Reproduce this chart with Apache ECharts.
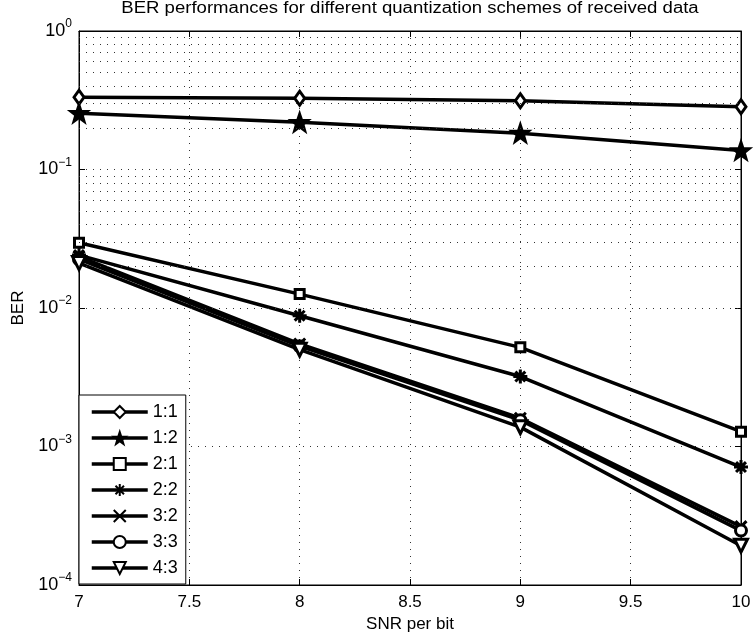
<!DOCTYPE html>
<html>
<head>
<meta charset="utf-8">
<script src="https://cdn.jsdelivr.net/npm/echarts@6/dist/echarts.min.js"></script>
<style>
html,body{margin:0;padding:0;background:#fff;}
#c{width:754px;height:639px;}
</style>
</head>
<body>
<div id="c"></div>
<script>
const snr = [7, 8, 9, 10];
const seriesNames = ['1:1', '1:2', '2:1', '2:2', '3:2', '3:3', '4:3'];
const ber11 = [0.332, 0.327, 0.314, 0.284];
const ber12 = [0.255, 0.219, 0.183, 0.137];
const ber21 = [0.0296, 0.0126, 0.0052, 0.00128];
const ber22 = [0.0241, 0.0088, 0.0032, 0.00071];
const ber32 = [0.0235, 0.0055, 0.0016, 0.000264];
const ber33 = [0.0225, 0.0053, 0.00155, 0.000247];
const ber43 = [0.0211, 0.0050, 0.00138, 0.000192];
const xTicks = [7, 7.5, 8, 8.5, 9, 9.5, 10];
const yDecades = [1e-4, 1e-3, 1e-2, 1e-1, 1];
const titleText = 'BER performances for different quantization schemes of received data';
const xName = 'SNR per bit';
const yName = 'BER';

const FONT = '"Liberation Sans", Arial, sans-serif';
const allData = [ber11, ber12, ber21, ber22, ber32, ber33, ber43];

const symDefs = [
  {symbol: 'diamond', size: [10, 14], fill: '#fff'},
  {symbol: 'path://M0,-10L2.35,-3.24L9.51,-3.09L3.8,1.24L5.88,8.09L0,4L-5.88,8.09L-3.8,1.24L-9.51,-3.09L-2.35,-3.24Z', size: 16, fill: '#000'},
  {symbol: 'rect', size: 9, fill: '#fff'},
  {symbol: 'path://M0,-10L0,10M-10,0L10,0M-7.07,-7.07L7.07,7.07M-7.07,7.07L7.07,-7.07', size: 14, fill: 'none'},
  {symbol: 'path://M-10,-10L10,10M-10,10L10,-10', size: 11, fill: 'none'},
  {symbol: 'circle', size: 11, fill: '#fff'},
  {symbol: 'path://M-10,-8L10,-8L0,10Z', size: [13, 13], fill: '#fff'}
];

const minorVals = [];
for (let i = 0; i < yDecades.length - 1; i++) {
  for (let k = 2; k <= 9; k++) minorVals.push(k * yDecades[i]);
}

function yFmt(v) {
  const e = Math.round(Math.log10(v));
  return '10{s|' + (e === 0 ? '0' : '\u2212' + (-e)) + '}';
}

const series = seriesNames.map((name, i) => ({
  name: name,
  type: 'line',
  data: snr.map((x, j) => [x, allData[i][j]]),
  symbol: symDefs[i].symbol,
  symbolSize: symDefs[i].size,
  showAllSymbol: true,
  lineStyle: {color: '#000', width: 3.5},
  itemStyle: {color: symDefs[i].fill, borderColor: '#000', borderWidth: 3},
  emphasis: {disabled: true},
  z: 3
}));

series.push({
  name: '__grid',
  type: 'line',
  data: [],
  silent: true,
  z: 1,
  markLine: {
    silent: true,
    symbol: 'none',
    label: {show: false},
    lineStyle: {color: '#333', width: 1, type: [1, 6]},
    data: minorVals.map(v => ({yAxis: v}))
  }
});

const chart = echarts.init(document.getElementById('c'), null, {renderer: 'canvas'});
chart.setOption({
  animation: false,
  backgroundColor: '#fff',
  grid: {left: 79, right: 13, top: 31, bottom: 54, show: true, borderColor: '#000', borderWidth: 1, containLabel: false},
  graphic: [{
    type: 'text', x: 410, y: 9, scaleX: 1.16,
    style: {text: titleText, font: '16px ' + FONT, fill: '#000', textAlign: 'center', textVerticalAlign: 'middle'}
  }],
  xAxis: [{
    type: 'value', min: 7, max: 10, interval: 0.5,
    name: xName, nameLocation: 'middle', nameGap: 26,
    nameTextStyle: {fontFamily: FONT, fontSize: 17, color: '#000'},
    axisLine: {show: true, lineStyle: {color: '#000', width: 1}},
    axisTick: {show: true, inside: true, length: 6, lineStyle: {color: '#000'}},
    axisLabel: {fontFamily: FONT, fontSize: 17, color: '#000', margin: 9, formatter: v => String(v)},
    splitLine: {show: true, lineStyle: {color: '#333', width: 1, type: [1, 6]}}
  }, {
    type: 'value', min: 7, max: 10, interval: 0.5, position: 'top',
    axisLine: {show: true, lineStyle: {color: '#000'}},
    axisTick: {show: true, inside: true, length: 6, lineStyle: {color: '#000'}},
    axisLabel: {show: false}, splitLine: {show: false}
  }],
  yAxis: [{
    type: 'log', logBase: 10, min: 1e-4, max: 1,
    name: yName, nameLocation: 'middle', nameGap: 52, nameRotate: 90,
    nameTextStyle: {fontFamily: FONT, fontSize: 17, color: '#000'},
    axisLine: {show: true, lineStyle: {color: '#000', width: 1}},
    axisTick: {show: true, inside: true, length: 6, lineStyle: {color: '#000'}},
    axisLabel: {
      fontFamily: FONT, fontSize: 18, color: '#000', margin: 7, formatter: yFmt,
      rich: {s: {fontFamily: FONT, fontSize: 12, color: '#000', padding: [0, 0, 14, 0]}}
    },
    splitLine: {show: true, lineStyle: {color: '#333', width: 1, type: [1, 6]}}
  }, {
    type: 'log', logBase: 10, min: 1e-4, max: 1, position: 'right',
    axisLine: {show: true, lineStyle: {color: '#000'}},
    axisTick: {show: true, inside: true, length: 6, lineStyle: {color: '#000'}},
    axisLabel: {show: false}, splitLine: {show: false}
  }],
  legend: {
    data: seriesNames,
    left: 79, top: 395,
    orient: 'vertical',
    itemWidth: 56, itemHeight: 15, itemGap: 8,
    padding: [8, 8, 7, 11],
    borderColor: '#000', borderWidth: 1, backgroundColor: '#fff',
    textStyle: {fontFamily: FONT, fontSize: 18, color: '#000'},
    lineStyle: {width: 3.5},
    selectedMode: false
  },
  series: series
});
</script>
</body>
</html>
